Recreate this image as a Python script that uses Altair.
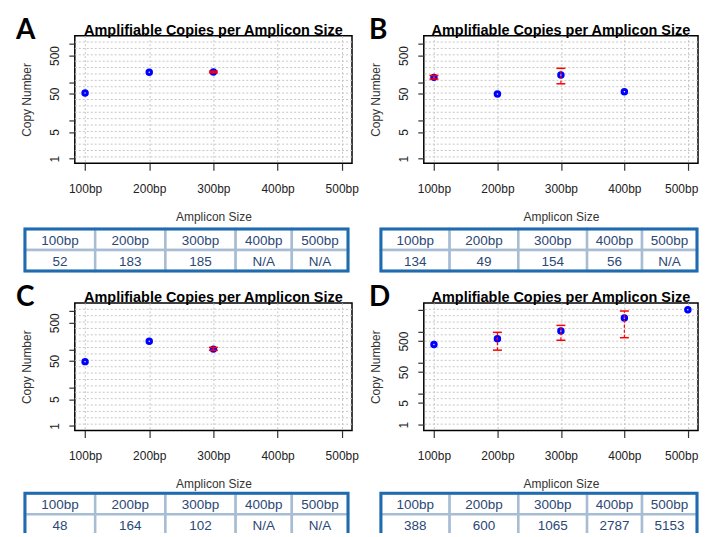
import altair as alt
import numpy as np
import pandas as pd

# ---------------- data ----------------
sizes = [100, 200, 300, 400, 500]
size_labels = ["100bp", "200bp", "300bp", "400bp", "500bp"]

copies_A = [52, 183, 185, None, None]
copies_B = [134, 49, 154, 56, None]
copies_C = [48, 164, 102, None, None]
copies_D = [388, 600, 1065, 2787, 5153]

err_low_A = [None, None, 176, None, None]
err_high_A = [None, None, 195, None, None]
err_low_B = [121, None, 91, None, None]
err_high_B = [150, None, 231, None, None]
err_low_C = [None, None, 95, None, None]
err_high_C = [None, None, 113, None, None]
err_low_D = [None, 256, 535, 647, None]
err_high_D = [None, 964, 1614, 4720, None]

panel_letters = ["A", "B", "C", "D"]
plot_title = "Amplifiable Copies per Amplicon Size"
x_title = "Amplicon Size"
y_title = "Copy Number"
na_text = "N/A"

ytick_values_low = [1, 5, 10, 50, 100, 500, 1000]
ytick_values_high = [1, 5, 10, 50, 100, 500, 1000, 5000]
ytick_labeled = [1, 5, 50, 500]

# ---------------- layout / style ----------------
FONT = "Liberation Sans"
LETTER_FONT = "Lato"
PW_LEFT, PW_RIGHT, PH = 278, 275, 128
TW_LEFT, TW_RIGHT = 324, 317
TH_TOP, TH_BOTTOM = 42, 42
x_domain = [84, 516]
y_domain_low = [0.756, 1650]
y_domain_high = [0.643, 8630]
col_weights = [5, 5, 5, 4, 4]
GRID = "#c6c6c6"
BLUE = "#0000ff"
RED = "#ff0000"


def make_plot(letter, copies, lows, highs, y_domain, y_values, pw, right_col):
    pts = pd.DataFrame({"size": sizes, "copies": copies}).dropna()
    err = pd.DataFrame({"size": sizes, "lo": lows, "hi": highs}).dropna()
    grid_df = pd.DataFrame({"g": np.geomspace(y_domain[0], y_domain[1], 21)[1:-1]})
    xs = alt.Scale(domain=x_domain, nice=False, zero=False)
    ys = alt.Scale(type="log", domain=y_domain, nice=False)
    last = sizes[-1]
    if right_col:
        l_align = {"condition": {"test": f"datum.value == {last}", "value": "right"}, "value": "center"}
        l_offset = {"condition": {"test": f"datum.value == {last}", "value": 10}, "value": 0}
    else:
        l_align = "center"
        l_offset = 0
    x_axis = alt.Axis(
        values=sizes, labelExpr="datum.value + 'bp'", title=x_title,
        grid=True, gridDash=[2, 2], gridColor=GRID, gridWidth=1,
        domain=False, ticks=True, tickSize=7, tickColor="#333333", tickWidth=1.2,
        labelFont=FONT, labelFontSize=12, labelColor="#222222", labelPadding=22,
        labelBaseline="alphabetic", labelAngle=0, labelFlush=False, labelOverlap=False,
        labelAlign=l_align, labelOffset=l_offset,
        titleFont=FONT, titleFontSize=12, titleFontWeight="normal", titleColor="#333333",
        titleX=pw / 2, titleY=57, titleBaseline="alphabetic", titleAlign="center",
    )
    lab_expr = f"indexof({ytick_labeled}, datum.value) >= 0 ? '' + datum.value : ''"
    y_axis = alt.Axis(
        values=y_values, labelExpr=lab_expr, title=y_title,
        grid=False, domain=False, ticks=True, tickSize=6, tickColor="#333333", tickWidth=1.2,
        labelFont=FONT, labelFontSize=12, labelColor="#222222", labelAngle=270,
        labelAlign="center", labelBaseline="alphabetic", labelPadding=10.7,
        labelOverlap=False, labelFlush=False,
        titleFont=FONT, titleFontSize=12, titleFontWeight="normal", titleColor="#333333",
        titleAngle=270, titleX=-44, titleY=PH / 2, titleAlign="center", titleBaseline="alphabetic",
    )
    X = alt.X("size:Q", scale=xs, axis=x_axis)

    def Y(field):
        return alt.Y(field, type="quantitative", scale=ys, axis=y_axis)

    hgrid = alt.Chart(grid_df).mark_rule(color=GRID, strokeDash=[2, 2], strokeWidth=1).encode(
        y=Y("g")
    )
    dots = alt.Chart(pts).mark_point(
        shape="circle", filled=False, color=BLUE, strokeWidth=3, size=20, opacity=1
    ).encode(x=X, y=Y("copies"))
    bars = alt.Chart(err).mark_rule(color=RED, strokeDash=[3, 2], strokeWidth=1.2).encode(
        x=X, y=Y("lo"), y2="hi:Q",
    )
    cap_lo = alt.Chart(err).mark_point(
        shape="M-1,0L1,0", filled=False, color=RED, strokeWidth=1.5, size=81, opacity=1
    ).encode(x=X, y=Y("lo"))
    cap_hi = alt.Chart(err).mark_point(
        shape="M-1,0L1,0", filled=False, color=RED, strokeWidth=1.5, size=81, opacity=1
    ).encode(x=X, y=Y("hi"))
    lab = alt.Chart(pd.DataFrame({"t": [letter]})).mark_text(
        align="left", baseline="alphabetic", font=LETTER_FONT, fontSize=28,
        fontWeight="bold", color="black"
    ).encode(text="t:N", x=alt.value(-55 if right_col else -59), y=alt.value(3))
    ttl = alt.Chart(pd.DataFrame({"t": [plot_title]})).mark_text(
        align="center", baseline="alphabetic", font=FONT, fontSize=14.5,
        fontWeight="bold", color="black"
    ).encode(text="t:N", x=alt.value(pw / 2), y=alt.value(-1))
    return alt.layer(hgrid, dots, bars, cap_lo, cap_hi, lab, ttl).properties(
        width=pw, height=PH,
        view=alt.ViewBackground(stroke="black", strokeWidth=1.5),
    )


edges = np.concatenate([[0], np.cumsum(col_weights)])


def make_table(copies, tw, th):
    recs = []
    for i, lab in enumerate(size_labels):
        v = copies[i]
        c0, c1 = float(edges[i]), float(edges[i + 1])
        recs.append({"c0": c0, "c1": c1, "cm": (c0 + c1) / 2, "r0": 0, "r1": 1, "rm": 0.5, "txt": lab})
        recs.append({"c0": c0, "c1": c1, "cm": (c0 + c1) / 2, "r0": 1, "r1": 2, "rm": 1.5,
                     "txt": na_text if v is None else str(v)})
    df = pd.DataFrame(recs)
    frame = pd.DataFrame({"c0": [float(edges[0])], "c1": [float(edges[-1])], "r0": [0], "r1": [2]})
    xs = alt.Scale(domain=[float(edges[0]), float(edges[-1])], nice=False, zero=False)
    ys = alt.Scale(domain=[0, 2], nice=False, zero=False, reverse=True)
    cells = alt.Chart(df).mark_rect(fill="white", stroke="#a6bdd3", strokeWidth=2.5).encode(
        x=alt.X("c0:Q", scale=xs, axis=None), x2="c1:Q",
        y=alt.Y("r0:Q", scale=ys, axis=None), y2="r1:Q",
    )
    texts = alt.Chart(df).mark_text(
        font=FONT, fontSize=13.5, color="#2b4876", align="center", baseline="middle", dy=1
    ).encode(
        x=alt.X("cm:Q", scale=xs, axis=None),
        y=alt.Y("rm:Q", scale=ys, axis=None),
        text="txt:N",
    )
    border = alt.Chart(frame).mark_rect(fillOpacity=0, stroke="#1f6bb0", strokeWidth=3).encode(
        x=alt.X("c0:Q", scale=xs, axis=None), x2="c1:Q",
        y=alt.Y("r0:Q", scale=ys, axis=None), y2="r1:Q",
    )
    return alt.layer(cells, texts, border).properties(width=tw, height=th)


def spacer(w):
    return alt.Chart(pd.DataFrame({"s": [0]})).mark_rect(opacity=0).encode(
        x=alt.value(0), x2=alt.value("width"), y=alt.value(0), y2=alt.value("height")
    ).properties(width=w, height=1)


pA = make_plot(panel_letters[0], copies_A, err_low_A, err_high_A, y_domain_low, ytick_values_low, PW_LEFT, False)
pB = make_plot(panel_letters[1], copies_B, err_low_B, err_high_B, y_domain_low, ytick_values_low, PW_RIGHT, True)
pC = make_plot(panel_letters[2], copies_C, err_low_C, err_high_C, y_domain_low, ytick_values_low, PW_LEFT, False)
pD = make_plot(panel_letters[3], copies_D, err_low_D, err_high_D, y_domain_high, ytick_values_high, PW_RIGHT, True)

tA = make_table(copies_A, TW_LEFT, TH_TOP)
tB = make_table(copies_B, TW_RIGHT, TH_TOP)
tC = make_table(copies_C, TW_LEFT, TH_BOTTOM)
tD = make_table(copies_D, TW_RIGHT, TH_BOTTOM)

row1 = alt.hconcat(spacer(50), pA, spacer(72), pB, spacing=0, bounds="flush")
row2 = alt.hconcat(tA, spacer(33), tB, spacing=0, bounds="flush")
row3 = alt.hconcat(spacer(50), pC, spacer(72), pD, spacing=0, bounds="flush")
row4 = alt.hconcat(tC, spacer(33), tD, spacing=0, bounds="flush")

top = alt.vconcat(row1, row2, spacing=4)
bottom = alt.vconcat(row3, row4, spacing=1)

chart = alt.vconcat(top, bottom, spacing=10).properties(
    padding={"left": 7, "top": 7, "right": 0, "bottom": -5}
).configure_view(stroke="transparent")

chart.save("out.html", embed_options={"renderer": "svg", "actions": False})
